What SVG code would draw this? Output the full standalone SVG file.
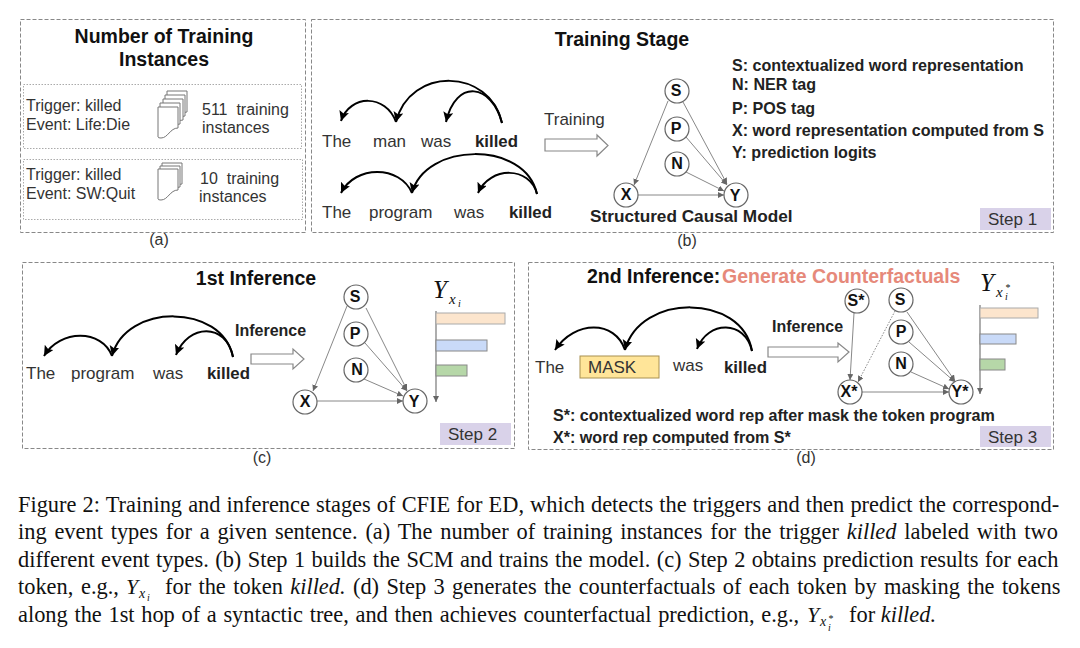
<svg xmlns="http://www.w3.org/2000/svg" width="1080" height="648" viewBox="0 0 1080 648">
<style>
text{font-family:"Liberation Sans",Arial,sans-serif;fill:#333}
.t{font-weight:bold;font-size:19.500px;fill:#111}
.w{font-size:17px}
.wb{font-size:16.800px;font-weight:bold;fill:#222}
.s{font-size:16px}
.l{font-size:16.100px;font-weight:bold;fill:#222}
.sm{font-size:17.200px;font-weight:bold;fill:#222}
.inf{font-size:16px;font-weight:bold;fill:#222}
.panel{fill:#fff;stroke:#888;stroke-width:1;stroke-dasharray:4 2}
.inner{fill:none;stroke:#aaa;stroke-width:1;stroke-dasharray:1.5 1.5}
.n circle{fill:#fff;stroke:#666;stroke-width:1.2}
.n text{font-size:16px;font-weight:bold;text-anchor:middle;fill:#111}
.arc{fill:none;stroke:#000;stroke-width:2;marker-end:url(#ah)}
.e{fill:none;stroke:#888;stroke-width:1;marker-end:url(#th)}
.blk{fill:#fff;stroke:#888;stroke-width:1.2}
.step{fill:#d9d2e9}
.st{font-size:17px}
.doc{fill:#fff;stroke:#777;stroke-width:1}
.m{font-family:"Liberation Serif",serif;font-style:italic;fill:#111}
.c{font-family:"Liberation Serif","Times New Roman",serif;font-size:22.400px;fill:#111}
.i{font-style:italic}
.or{fill:#fce5cd;stroke:#aaa}
.bl{fill:#c9daf8;stroke:#888}
.gr{fill:#b6d7a8;stroke:#888}
</style>
<defs>
<marker id="ah" markerUnits="userSpaceOnUse" markerWidth="12" markerHeight="12" refX="10" refY="5" orient="auto"><path d="M0 0L10 5L0 10L2 5Z" fill="#000"/></marker>
<marker id="th" markerUnits="userSpaceOnUse" markerWidth="8" markerHeight="8" refX="6" refY="3" orient="auto"><path d="M0 0L6 3L0 6Z" fill="#666"/></marker>
<path id="doc" class="doc" d="M0 0H20V21C12 21 10 31 3 31Q0 31 0 30Z"/>
</defs>

<g id="panels">
<rect class="panel" x="20.5" y="19.5" width="285" height="213"/>
<rect class="inner" x="23.5" y="84.5" width="278" height="64"/>
<rect class="inner" x="23.5" y="159.5" width="279" height="60"/>
<rect class="panel" x="311.5" y="19.5" width="742" height="213"/>
<rect class="panel" x="22.5" y="262.5" width="492" height="186"/>
<rect class="panel" x="528.5" y="262.5" width="525" height="187"/>
</g>

<g id="panel-a">
<text class="t" x="164" y="43" text-anchor="middle">Number of Training</text>
<text class="t" x="164" y="66" text-anchor="middle">Instances</text>
<text class="s" x="26" y="111">Trigger: killed</text>
<text class="s" x="26" y="130">Event: Life:Die</text>
<use href="#doc" x="167" y="91"/><use href="#doc" x="165" y="95"/><use href="#doc" x="163" y="99"/><use href="#doc" x="160" y="103"/><use href="#doc" x="158" y="107"/>
<text class="s" x="202" y="115" xml:space="preserve">511  training</text>
<text class="s" x="202" y="133">instances</text>
<text class="s" x="26" y="180">Trigger: killed</text>
<text class="s" x="26" y="199">Event: SW:Quit</text>
<use href="#doc" x="162" y="163"/><use href="#doc" x="160" y="166"/><use href="#doc" x="158" y="169"/>
<text class="s" x="200" y="184" xml:space="preserve">10  training</text>
<text class="s" x="199" y="202">instances</text>
<text class="s" x="159" y="245" text-anchor="middle">(a)</text>
</g>

<g id="panel-b">
<text class="t" x="622" y="46" text-anchor="middle">Training Stage</text>
<text class="w" x="322" y="147">The</text><text class="w" x="373" y="147">man</text><text class="w" x="421" y="147">was</text><text class="wb" x="475" y="147">killed</text>
<text class="w" x="322" y="218">The</text><text class="w" x="369" y="218">program</text><text class="w" x="454" y="218">was</text><text class="wb" x="509" y="218">killed</text>
<text class="w" x="544" y="125">Training</text>
<path class="blk" d="M545 139H597V135L608 145.500L597 156V151H545Z"/>
<text class="sm" x="590" y="222">Structured Causal Model</text>
<text class="l" x="732" y="71">S: contextualized word representation</text>
<text class="l" x="732" y="90">N: NER tag</text>
<text class="l" x="732" y="114">P: POS tag</text>
<text class="l" x="732" y="136">X: word representation computed from S</text>
<text class="l" x="732" y="158">Y: prediction logits</text>
<rect class="step" x="980" y="208" width="71" height="22"/>
<text class="st" x="988" y="225">Step 1</text>
<text class="s" x="687" y="246" text-anchor="middle">(b)</text>
</g>

<g id="panel-c">
<text class="t" x="256" y="285" text-anchor="middle">1st Inference</text>
<text class="w" x="26" y="379">The</text><text class="w" x="71" y="379">program</text><text class="w" x="153" y="379">was</text><text class="wb" x="207" y="379">killed</text>
<text class="inf" x="235" y="336">Inference</text>
<path class="blk" d="M251 354H293V349L304 359L293 369V364H251Z"/>
<text class="m" x="433" y="298" font-size="25">Y</text><text class="m" x="449" y="304" font-size="15">x</text><text class="m" x="458" y="307" font-size="10">i</text>
<line x1="436" y1="311" x2="436" y2="402" stroke="#777" stroke-width="1.2" marker-end="url(#th)"/>
<rect class="or" x="436" y="313" width="69" height="11"/><rect class="bl" x="436" y="340" width="51" height="11"/><rect class="gr" x="436" y="365" width="31" height="11"/>
<rect class="step" x="440" y="423" width="71" height="22"/>
<text class="st" x="448" y="440">Step 2</text>
<text class="s" x="262" y="463" text-anchor="middle">(c)</text>
</g>

<g id="panel-d">
<text class="t" x="587" y="283">2nd Inference:</text>
<text class="t" x="722" y="283" style="fill:#e6897a">Generate Counterfactuals</text>
<text class="w" x="535" y="373">The</text>
<rect x="580" y="356" width="79" height="22" fill="#ffe599" stroke="#a89050"/>
<text class="w" x="588" y="373">MASK</text>
<text class="w" x="673" y="371">was</text><text class="wb" x="724" y="373">killed</text>
<text class="inf" x="772" y="332">Inference</text>
<path class="blk" d="M768 347H838V343L849 352L838 362V357H768Z"/>
<text class="l" x="553" y="421">S*: contextualized word rep after mask the token program</text>
<text class="l" x="553" y="443">X*: word rep computed from S*</text>
<text class="m" x="980" y="291" font-size="25">Y</text><text class="m" x="996" y="297" font-size="15">x</text><text class="m" x="1005" y="300" font-size="10">i</text><text class="m" x="1005" y="291" font-size="10">*</text>
<line x1="980" y1="305" x2="980" y2="394" stroke="#777" stroke-width="1.2" marker-end="url(#th)"/>
<rect class="or" x="980" y="308" width="58" height="10"/><rect class="bl" x="980" y="334" width="36" height="10"/><rect class="gr" x="980" y="359" width="25" height="11"/>
<rect class="step" x="980" y="426" width="71" height="21"/>
<text class="st" x="988" y="443">Step 3</text>
<text class="s" x="806" y="463" text-anchor="middle">(d)</text>
</g>

<g id="connectors">
<path class="arc" d="M502 123C490 68 410 66 396 122"/>
<path class="arc" d="M502 123C492 84 456 78 446 122"/>
<path class="arc" d="M396 122C386 94 350 94 341 121"/>
<path class="arc" d="M537 194C525 140 425 142 412 193"/>
<path class="arc" d="M537 194C530 166 490 166 478 193"/>
<path class="arc" d="M412 193C400 165 355 165 341 193"/>
<path class="arc" d="M233 357C222 303 126 303 112 356"/>
<path class="arc" d="M233 357C226 322 188 324 176 355"/>
<path class="arc" d="M112 356C102 329 60 329 44 356"/>
<path class="arc" d="M752 351C742 293 640 293 625 350"/>
<path class="arc" d="M752 351C745 320 708 320 697 349"/>
<path class="arc" d="M625 350C615 320 575 320 555 350"/>
<path class="e" d="M668 101L634 185"/><path class="e" d="M683 102L727 184"/><path class="e" d="M686 137L727 185"/><path class="e" d="M686 172L724 191"/><path class="e" d="M638 195H724"/>
<path class="e" d="M347 306L313 391"/><path class="e" d="M366 308L407 390"/><path class="e" d="M365 343L407 391"/><path class="e" d="M364 379L403 396"/><path class="e" d="M317 401H403"/>
<path class="e" d="M854 313L850 380"/><path class="e" d="M895 311L858 382" stroke-dasharray="1.500 1.500"/><path class="e" d="M907 312L955 381"/><path class="e" d="M909 342L955 382"/><path class="e" d="M911 372L949 389"/><path class="e" d="M862 392H949"/>
</g>

<g id="b-S" class="n"><circle cx="677" cy="91" r="12"/><text x="676" y="96">S</text></g>
<g id="b-P" class="n"><circle cx="677" cy="129" r="12"/><text x="676" y="134">P</text></g>
<g id="b-N" class="n"><circle cx="677" cy="164" r="12"/><text x="677" y="169">N</text></g>
<g id="b-X" class="n"><circle cx="626" cy="195" r="12"/><text x="626" y="200">X</text></g>
<g id="b-Y" class="n"><circle cx="736" cy="195" r="12"/><text x="735" y="201">Y</text></g>
<g id="c-S" class="n"><circle cx="356" cy="297" r="12"/><text x="355" y="302">S</text></g>
<g id="c-P" class="n"><circle cx="356" cy="334" r="12"/><text x="355" y="339">P</text></g>
<g id="c-N" class="n"><circle cx="356" cy="370" r="12"/><text x="357" y="375">N</text></g>
<g id="c-X" class="n"><circle cx="305" cy="402" r="12"/><text x="305" y="407">X</text></g>
<g id="c-Y" class="n"><circle cx="415" cy="401" r="12"/><text x="414" y="407">Y</text></g>
<g id="d-Sstar" class="n"><circle cx="857" cy="301" r="12"/><text x="856" y="306">S*</text></g>
<g id="d-S" class="n"><circle cx="901" cy="300" r="12"/><text x="900" y="305">S</text></g>
<g id="d-P" class="n"><circle cx="901" cy="332" r="12"/><text x="901" y="337">P</text></g>
<g id="d-N" class="n"><circle cx="901" cy="364" r="12"/><text x="901" y="369">N</text></g>
<g id="d-Xstar" class="n"><circle cx="850" cy="392" r="12"/><text x="849" y="397">X*</text></g>
<g id="d-Ystar" class="n"><circle cx="961" cy="392" r="12"/><text x="960" y="397">Y*</text></g>

<g id="caption">
<text class="c" x="18" y="512" word-spacing="0.53">Figure 2: Training and inference stages of CFIE for ED, which detects the triggers and then predict the correspond-</text>
<text class="c" x="18" y="539" word-spacing="2.2">ing event types for a given sentence. (a) The number of training instances for the trigger <tspan class="i">killed</tspan> labeled with two</text>
<text class="c" x="18" y="567" word-spacing="0.8">different event types. (b) Step 1 builds the SCM and trains the model. (c) Step 2 obtains prediction results for each</text>
<text class="c" x="18" y="594" word-spacing="2">token, e.g.,</text>
<text class="m" x="126" y="594" font-size="22">Y</text><text class="m" x="139" y="598" font-size="14">x</text><text class="m" x="147" y="601" font-size="10">i</text>
<text class="c" x="165" y="594" word-spacing="1.75">for the token <tspan class="i">killed.</tspan> (d) Step 3 generates the counterfactuals of each token by masking the tokens</text>
<text class="c" x="18" y="622" word-spacing="1.07">along the 1st hop of a syntactic tree, and then achieves counterfactual prediction, e.g.,</text>
<text class="m" x="807" y="622" font-size="22">Y</text><text class="m" x="820" y="626" font-size="14">x</text><text class="m" x="828" y="631" font-size="10">i</text><text class="m" x="828" y="622" font-size="10">*</text>
<text class="c" x="849" y="622">for <tspan class="i">killed.</tspan></text>
</g>
</svg>
